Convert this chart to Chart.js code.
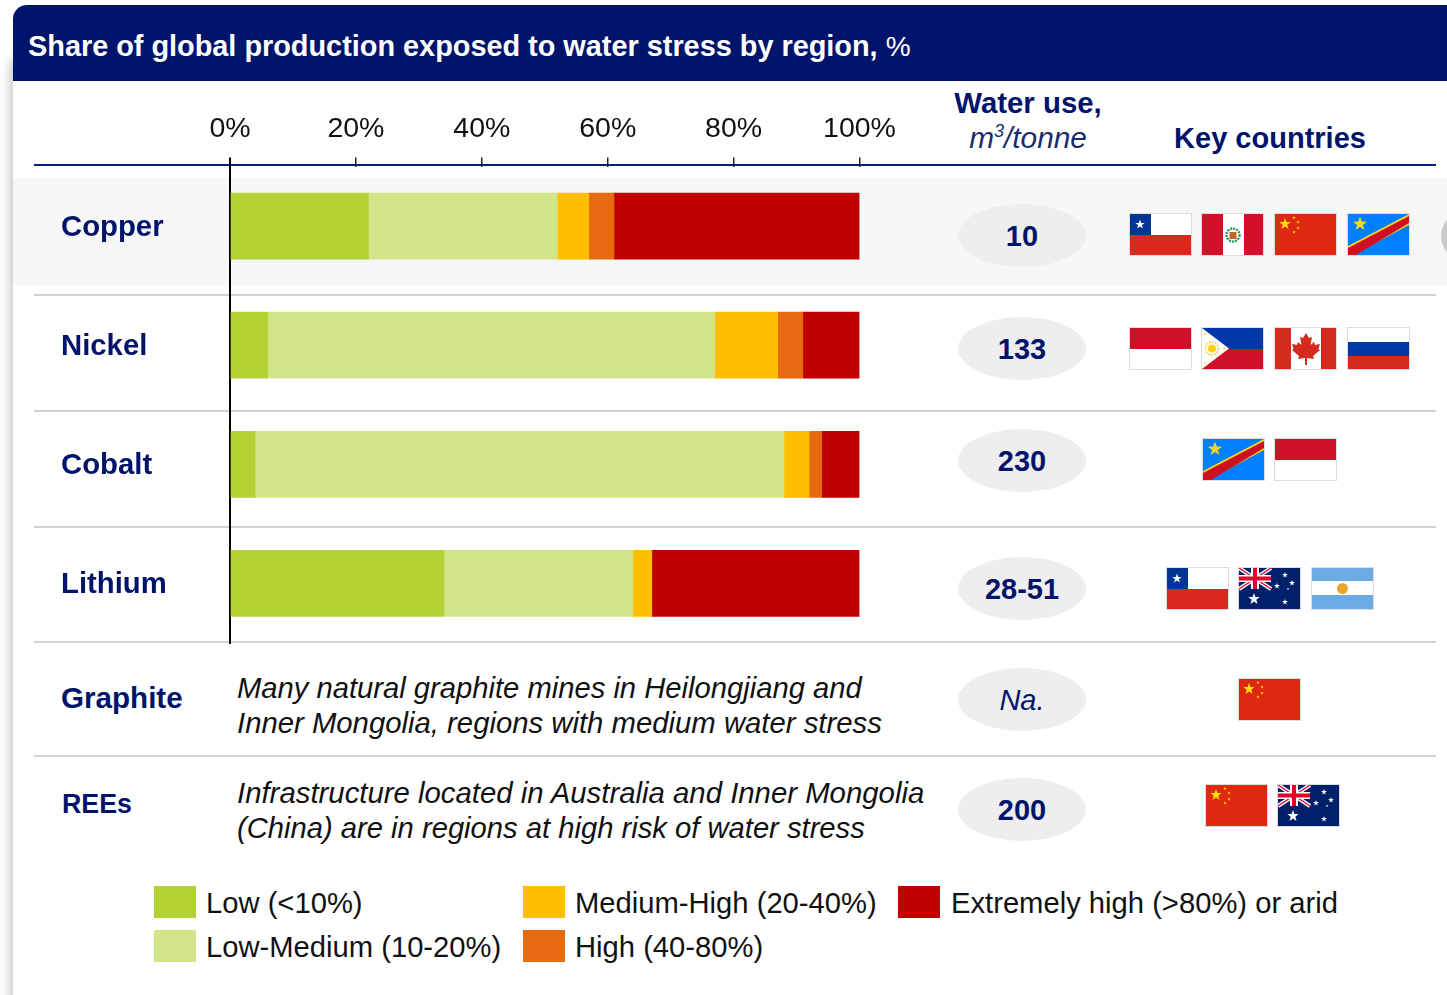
<!DOCTYPE html>
<html>
<head>
<meta charset="utf-8">
<title>Water stress</title>
<script src="https://cdn.jsdelivr.net/npm/chart.js@4"></script>
<style>
  html, body { margin: 0; padding: 0; background: #fff; }
  body { width: 1447px; height: 995px; position: relative; overflow: hidden; font-family: "Liberation Sans", Arial, sans-serif; }
  #panel { position: absolute; left: 13px; top: 60px; width: 1460px; height: 960px; background: #fff; box-shadow: 0 0 12px rgba(0,0,0,.35); }
  #header { position: absolute; left: 13px; top: 5px; width: 1434px; height: 76px; background: #00146b; border-top-left-radius: 14px; }
  #copperBand { position: absolute; left: 13px; top: 178px; width: 1434px; height: 107px; background: #f7f7f7; }
  #myChart { position: absolute; left: 0; top: 0; z-index: 2; }
  .rule { position: absolute; left: 34px; width: 1402px; height: 2px; background: #d2d2d2; }
  .txt { position: absolute; white-space: nowrap; line-height: 40px; height: 40px; }
  .pill { position: absolute; left: 958px; width: 128px; height: 63px; border-radius: 50%; background: #eeeeee; }
  .flag { position: absolute; width: 63px; height: 43px; display: block; }
  .swatch { position: absolute; width: 42px; height: 32px; }
  sup { font-size: 18px; line-height: 0; }
</style>
</head>
<body>
<div id="panel"></div>
<div id="header"></div>
<div id="copperBand"></div>
<div style="position:absolute;left:1441px;top:211px;width:50px;height:50px;border-radius:50%;background:#c9c9c9"></div>
<canvas id="myChart" width="1447" height="995"></canvas>
<div id="overlay"></div>

<script>
// Values, share of production in %
const categories = ["Copper", "Nickel", "Cobalt", "Lithium"];
const lowValues = [22, 6, 4, 34];
const lowMediumValues = [30, 71, 84, 30];
const mediumHighValues = [5, 10, 4, 3];
const highValues = [4, 4, 2, 0];
const extremeValues = [39, 9, 6, 33];

const seriesNames = ["Low (<10%)", "Low-Medium (10-20%)", "Medium-High (20-40%)", "High (40-80%)", "Extremely high (>80%) or arid"];
const seriesColors = ["#b3d335", "#d2e588", "#ffbe00", "#e56a10", "#c00000"];
const tickLabels = ["0%", "20%", "40%", "60%", "80%", "100%"];

const NAVY = "#00146b";
const overlay = document.getElementById("overlay");

function addText(html, x, y, style) {
  const el = document.createElement("div");
  el.className = "txt";
  el.innerHTML = html;
  el.style.cssText = `left:${x}px;top:${y - 20}px;font-size:29px;` + style;
  overlay.appendChild(el);
}

function addDiv(className, style) {
  const el = document.createElement("div");
  el.className = className;
  el.style.cssText = style;
  overlay.appendChild(el);
}

// Title and column headers
addText('<b>Share of global production exposed to water stress by region,</b> <span style="font-size:28px">%</span>', 28, 46, "color:#fff;font-size:28.9px;letter-spacing:-0.02px;");
addText("<b>Water use,</b>", 1028, 103, `color:${NAVY};font-size:29.4px;transform:translateX(-50%);`);
addText("<i>m<sup>3</sup>/tonne</i>", 1028, 138, `color:#1a2a6b;font-size:29.8px;transform:translateX(-50%);`);
addText("<b>Key countries</b>", 1270, 138, `color:${NAVY};transform:translateX(-50%);`);

addDiv("rule", "top:164px;background:#0b1f7a;");
[294, 410, 526, 641, 755].forEach(y => addDiv("rule", `top:${y}px;`));

// Rows without bars
addText("<b>Graphite</b>", 61, 698, `color:${NAVY};font-size:29.6px;`);
addText("<b>REEs</b>", 62, 804, `color:${NAVY};font-size:26.8px;`);
addText("<i>Many natural graphite mines in Heilongjiang and</i>", 237, 688, "color:#111;font-size:29.2px;");
addText("<i>Inner Mongolia, regions with medium water stress</i>", 237, 723, "color:#111;font-size:29.3px;");
addText("<i>Infrastructure located in Australia and Inner Mongolia</i>", 237, 793, "color:#111;font-size:29.35px;");
addText("<i>(China) are in regions at high risk of water stress</i>", 237, 828, "color:#111;font-size:29.2px;");

// Water use pills
const waterUse = ["10", "133", "230", "28-51", "Na.", "200"];
const pillTops = [204, 317, 429, 557, 668, 778];
waterUse.forEach((val, i) => {
  addDiv("pill", `top:${pillTops[i]}px;`);
  const label = val === "Na." ? "<i>Na.</i>" : `<b>${val}</b>`;
  addText(label, 1022, pillTops[i] + 32, `color:${NAVY};transform:translateX(-50%);`);
});

// Legend
const legendSpots = [[154, 886], [154, 930], [523, 886], [523, 930], [898, 886]];
seriesNames.forEach((name, i) => {
  const [x, y] = legendSpots[i];
  addDiv("swatch", `left:${x}px;top:${y}px;background:${seriesColors[i]};`);
  addText(name.replace("<", "&lt;"), x + 52 + (i === 4 ? 1 : 0), y + 17, "color:#111;font-size:29.2px;");
});

// Flags, viewBox is 63x43
function star(cx, cy, r, fill) {
  let pts = [];
  for (let i = 0; i < 10; i++) {
    const rad = i % 2 ? r * 0.4 : r;
    const a = -Math.PI / 2 + i * Math.PI / 5;
    pts.push((cx + rad * Math.cos(a)).toFixed(1) + "," + (cy + rad * Math.sin(a)).toFixed(1));
  }
  return `<polygon points="${pts.join(" ")}" fill="${fill}"/>`;
}
const rect = (x, y, w, h, f) => `<rect x="${x}" y="${y}" width="${w}" height="${h}" fill="${f}"/>`;
const unionJack = `<g>${rect(1, 1, 32, 21, "#00206a")}
  <path d="M1 1L33 22M33 1L1 22" stroke="#fff" stroke-width="4"/>
  <path d="M1 1L33 22M33 1L1 22" stroke="#e4002b" stroke-width="1.4"/>
  ${rect(13, 1, 8, 21, "#fff")}${rect(1, 8, 32, 7, "#fff")}
  ${rect(15, 1, 4, 21, "#e4002b")}${rect(1, 9.5, 32, 4, "#e4002b")}</g>`;
const flagArt = {
  chile: rect(1, 1, 61, 41, "#fff") + rect(1, 22, 61, 20, "#da291c") + rect(1, 1, 21, 21, "#003594") + star(11, 11.5, 5, "#fff"),
  peru: rect(1, 1, 61, 41, "#fff") + rect(1, 1, 21, 41, "#d21028") + rect(43, 1, 19, 41, "#d21028") +
    `<circle cx="32" cy="22" r="6.5" fill="none" stroke="#2a9a5a" stroke-width="2.4" stroke-dasharray="2 1"/>` + rect(28.5, 19, 7, 7, "#c8642a"),
  china: rect(1, 1, 61, 41, "#de2910") + star(11, 11, 6, "#ffde00") + star(20, 4.5, 1.8, "#ffde00") + star(24, 9, 1.8, "#ffde00") + star(24, 15, 1.8, "#ffde00") + star(20, 19, 1.8, "#ffde00"),
  drc: rect(1, 1, 61, 41, "#007fff") + `<path d="M1 42L1 33L62 1L62 12L6 42Z" fill="#f7d618"/><path d="M1 42L1 35L62 3L62 10L9 42Z" fill="#ce1021"/>` + star(13, 11, 7.5, "#f7d618"),
  indonesia: rect(1, 1, 61, 41, "#fff") + rect(1, 1, 61, 21, "#ce1126"),
  philippines: rect(1, 1, 61, 21, "#0038a8") + rect(1, 22, 61, 20, "#ce1126") + `<polygon points="1,1 28,21.5 1,42" fill="#fff"/>` +
    `<circle cx="11" cy="21.5" r="4" fill="#fcd116"/><circle cx="11" cy="21.5" r="6.5" fill="none" stroke="#fcd116" stroke-width="1.6" stroke-dasharray="1.5 1.5"/>` +
    star(4, 7, 1.6, "#fcd116") + star(4, 36, 1.6, "#fcd116") + star(23, 21.5, 1.6, "#fcd116"),
  canada: rect(1, 1, 61, 41, "#fff") + rect(1, 1, 16, 41, "#d52b1e") + rect(47, 1, 15, 41, "#d52b1e") +
    `<polygon fill="#d52b1e" points="32,6 35,11 38,10 36.5,18 40,15 41,18 46,17 44.5,22 46,23 39,29 40,32 33,31 33,38 31,38 31,31 24,32 25,29 18,23 19.5,22 18,17 23,18 24,15 27.5,18 26,10 29,11"/>`,
  russia: rect(1, 1, 61, 14, "#fff") + rect(1, 15, 61, 14, "#0039a6") + rect(1, 29, 61, 13, "#d52b1e"),
  australia: rect(1, 1, 61, 41, "#00206a") + unionJack + star(16, 32, 6, "#fff") + star(47, 8, 3, "#fff") + star(39, 19, 3, "#fff") + star(54, 16, 3, "#fff") + star(50, 22, 1.4, "#fff") + star(47, 35, 3, "#fff"),
  argentina: rect(1, 1, 61, 14, "#6cace4") + rect(1, 14, 61, 14, "#fff") + rect(1, 28, 61, 14, "#6cace4") + `<circle cx="31.5" cy="21.5" r="5.5" fill="#e8a62c"/>`
};

// x position, y position, flag name
const flagRows = [
  [1129, 213, "chile"], [1201, 213, "peru"], [1274, 213, "china"], [1347, 213, "drc"],
  [1129, 327, "indonesia"], [1201, 327, "philippines"], [1274, 327, "canada"], [1347, 327, "russia"],
  [1202, 438, "drc"], [1274, 438, "indonesia"],
  [1166, 567, "chile"], [1238, 567, "australia"], [1311, 567, "argentina"],
  [1238, 678, "china"],
  [1205, 784, "china"], [1277, 784, "australia"]
];
flagRows.forEach(([x, y, name]) => {
  const holder = document.createElement("div");
  holder.innerHTML = `<svg class="flag" viewBox="0 0 63 43" style="left:${x}px;top:${y}px">${flagArt[name]}<rect x="0.5" y="0.5" width="62" height="42" fill="none" stroke="#dcdcdc"/></svg>`;
  overlay.appendChild(holder.firstChild);
});

const seriesValues = [lowValues, lowMediumValues, mediumHighValues, highValues, extremeValues];

new Chart(document.getElementById("myChart"), {
  type: "bar",
  data: {
    labels: categories,
    datasets: seriesNames.map((name, i) => ({
      label: name,
      data: seriesValues[i],
      backgroundColor: seriesColors[i],
      barThickness: 66,
      borderWidth: 0
    }))
  },
  options: {
    indexAxis: "y",
    responsive: false,
    animation: false,
    layout: { padding: { left: 61, right: 587.5, top: 0.5, bottom: 352 } },
    plugins: { legend: { display: false }, tooltip: { enabled: false } },
    scales: {
      x: {
        position: "top",
        stacked: true,
        min: 0,
        max: 100,
        afterFit: scale => { scale.height = 166; },
        ticks: {
          stepSize: 20,
          maxRotation: 0,
          padding: 11,
          color: "#111",
          font: { family: "Liberation Sans", size: 28.5 },
          callback: (value, index) => tickLabels[index]
        },
        grid: {
          drawOnChartArea: false,
          drawTicks: true,
          tickLength: 9,
          color: ctx => (ctx.index === 0 ? "#000" : "#222"),
          lineWidth: ctx => (ctx.index === 0 ? 2 : 1.5)
        },
        border: { display: false }
      },
      y: {
        stacked: true,
        afterFit: scale => { scale.width = 169; },
        ticks: {
          crossAlign: "far",
          labelOffset: 1.5,
          color: NAVY,
          font: { family: "Liberation Sans", size: 29.3, weight: "bold" }
        },
        grid: { display: false },
        border: { display: true, color: "#000", width: 2 }
      }
    }
  }
});
</script>
</body>
</html>
